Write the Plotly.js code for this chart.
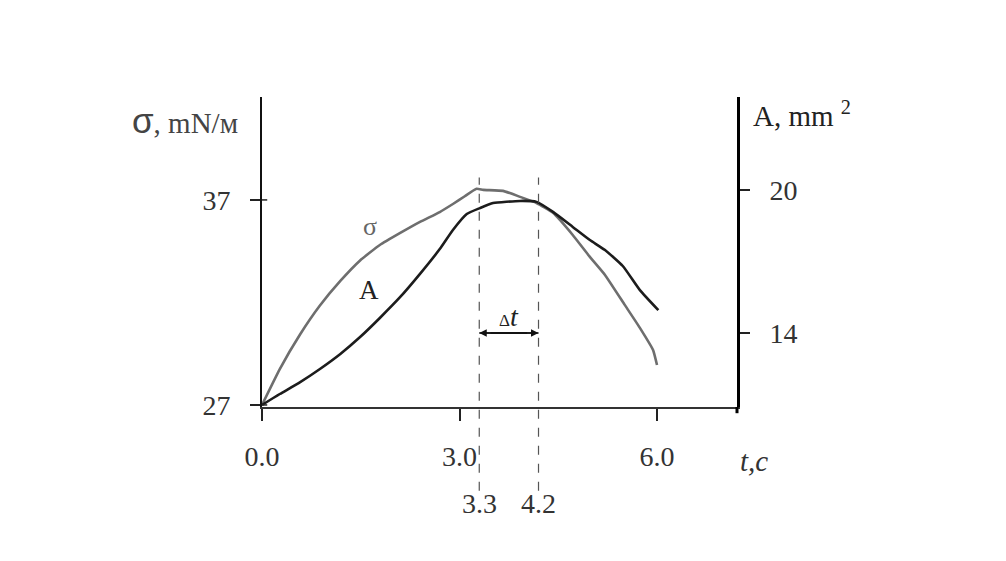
<!DOCTYPE html>
<html>
<head>
<meta charset="utf-8">
<script src="https://cdn.plot.ly/plotly-3.0.1.min.js"></script>
<style>html,body{margin:0;padding:0;background:#fff;}</style>
</head>
<body>
<div id="chart" style="width:1006px;height:561px;"></div>
<script>
// ---- data ----
const tSigma = [0, 0.27, 0.58, 0.88, 1.19, 1.49, 1.79, 2.10, 2.40, 2.70, 2.90, 3.08, 3.26, 3.36, 3.66, 3.92, 4.17, 4.42, 4.72, 4.98, 5.21, 5.51, 5.74, 5.94, 6.0];
const sigma  = [27.0, 28.75, 30.45, 31.85, 33.05, 34.05, 34.80, 35.39, 35.93, 36.41, 36.80, 37.18, 37.54, 37.49, 37.44, 37.15, 36.85, 36.37, 35.29, 34.22, 33.34, 31.88, 30.76, 29.68, 28.95];
const tArea  = [0, 0.27, 0.58, 0.88, 1.19, 1.49, 1.79, 2.10, 2.40, 2.70, 2.90, 3.11, 3.31, 3.51, 3.92, 4.17, 4.42, 4.72, 4.98, 5.21, 5.48, 5.74, 6.02];
const area   = [10.98, 11.44, 11.94, 12.49, 13.12, 13.83, 14.63, 15.51, 16.48, 17.52, 18.32, 18.99, 19.24, 19.45, 19.54, 19.50, 19.08, 18.45, 17.90, 17.48, 16.81, 15.80, 14.96];
const xTicks = [0, 3, 6];
const xTickText = ['0.0', '3.0', '6.0'];
const sigmaTicks = [27, 37];
const areaTicks = [14, 20];
const markTimes = [3.3, 4.2];
const markLabels = ['3.3', '4.2'];

const serif = 'Liberation Serif, Times New Roman, serif';
const tickFont = {family: serif, size: 28, color: '#333'};

const traces = [
  {x: tSigma, y: sigma, type: 'scatter', mode: 'lines', name: 'σ',
   line: {color: '#6e6e6e', width: 2.6, shape: 'spline', smoothing: 0.4}, yaxis: 'y', hoverinfo: 'skip'},
  {x: tArea, y: area, type: 'scatter', mode: 'lines', name: 'A',
   line: {color: '#1c1c1c', width: 2.6, shape: 'spline', smoothing: 0.5}, yaxis: 'y2', hoverinfo: 'skip'}
];

const shapes = [];
markTimes.forEach(t => {
  shapes.push({type: 'line', xref: 'x', yref: 'paper', x0: t, x1: t, y0: -0.27, y1: 0.74,
               line: {color: '#555', width: 1.2, dash: 'dash'}});
});
sigmaTicks.forEach(v => {
  shapes.push({type: 'line', xref: 'paper', yref: 'y', x0: 0, x1: 0.011, y0: v, y1: v,
               line: {color: '#222', width: 1.5}});
});
// small downward extension of right axis
shapes.push({type: 'line', xref: 'paper', yref: 'paper', x0: 1, x1: 1, y0: 0, y1: -0.02,
             line: {color: '#000', width: 3}});
// double-headed Δt arrow body
shapes.push({type: 'line', xref: 'x', yref: 'y', x0: markTimes[0], x1: markTimes[1], y0: 30.51, y1: 30.51,
             line: {color: '#111', width: 1.5}});

const annotations = [
  {xref: 'paper', yref: 'paper', x: -0.046, y: 0.925, xanchor: 'right', yanchor: 'middle', showarrow: false,
   text: '<span style="font-family:Liberation Sans, Arial, sans-serif;font-size:35px">σ</span>, mN/м',
   font: {family: serif, size: 29, color: '#444'}},
  {xref: 'paper', yref: 'paper', x: 1.03, y: 0.945, xanchor: 'left', yanchor: 'middle', showarrow: false,
   text: 'A, mm <sup>2</sup>', font: {family: serif, size: 29, color: '#222'}},
  {xref: 'paper', yref: 'paper', x: 1.002, y: -0.173, xanchor: 'left', yanchor: 'middle', showarrow: false,
   text: '<i>t,c</i>', font: {family: serif, size: 29, color: '#333'}},
  {xref: 'x', yref: 'y', x: 1.64, y: 35.7, showarrow: false, text: 'σ',
   font: {family: serif, size: 26, color: '#666'}},
  {xref: 'x', yref: 'y', x: 1.62, y: 32.6, showarrow: false, text: 'A',
   font: {family: serif, size: 27, color: '#222'}},
  {xref: 'x', yref: 'y', x: markTimes[1], y: 30.51, axref: 'x', ayref: 'y', ax: markTimes[0] + 0.15, ay: 30.51,
   showarrow: true, arrowhead: 2, arrowsize: 1, arrowwidth: 1.5, arrowcolor: '#111', text: ''},
  {xref: 'x', yref: 'y', x: markTimes[0], y: 30.51, axref: 'x', ayref: 'y', ax: markTimes[1] - 0.15, ay: 30.51,
   showarrow: true, arrowhead: 2, arrowsize: 1, arrowwidth: 1.5, arrowcolor: '#111', text: ''},
  {xref: 'x', yref: 'y', x: (markTimes[0] + markTimes[1]) / 2, y: 31.3, showarrow: false,
   text: '<span style="font-size:17px">Δ</span><i>t</i>', font: {family: serif, size: 28, color: '#222'}}
];
markTimes.forEach((t, i) => {
  annotations.push({xref: 'x', yref: 'paper', x: t, y: -0.31, showarrow: false, text: markLabels[i],
                    font: tickFont, yanchor: 'middle'});
});

const layout = {
  width: 1006, height: 561,
  margin: {l: 262, r: 269, t: 97, b: 154},
  paper_bgcolor: '#fff', plot_bgcolor: '#fff',
  showlegend: false,
  xaxis: {range: [0, 7.215], showgrid: false, zeroline: false, showline: true, linecolor: '#333', linewidth: 2,
          tickmode: 'array', tickvals: xTicks, ticktext: xTickText, ticks: 'outside', ticklen: 12, tickwidth: 2,
          tickcolor: '#222', tickfont: tickFont, ticklabelstandoff: 11, fixedrange: true},
  yaxis: {range: [26.9, 42.02], showgrid: false, zeroline: false, showline: true, linecolor: '#111', linewidth: 2,
          tickmode: 'array', tickvals: sigmaTicks, ticktext: sigmaTicks.map(String), ticks: 'outside', ticklen: 10,
          tickwidth: 1.5, tickcolor: '#222', tickfont: tickFont, ticklabelstandoff: 14, fixedrange: true},
  yaxis2: {range: [10.895, 23.90], overlaying: 'y', side: 'right', showgrid: false, zeroline: false,
           showline: true, linecolor: '#000', linewidth: 3, tickmode: 'array', tickvals: areaTicks,
           ticktext: areaTicks.map(String), ticks: 'outside', ticklen: 10, tickwidth: 1.5, tickcolor: '#222',
           tickfont: tickFont, ticklabelstandoff: 14, fixedrange: true},
  shapes: shapes,
  annotations: annotations
};

Plotly.newPlot('chart', traces, layout, {displayModeBar: false, staticPlot: true});
</script>
</body>
</html>
